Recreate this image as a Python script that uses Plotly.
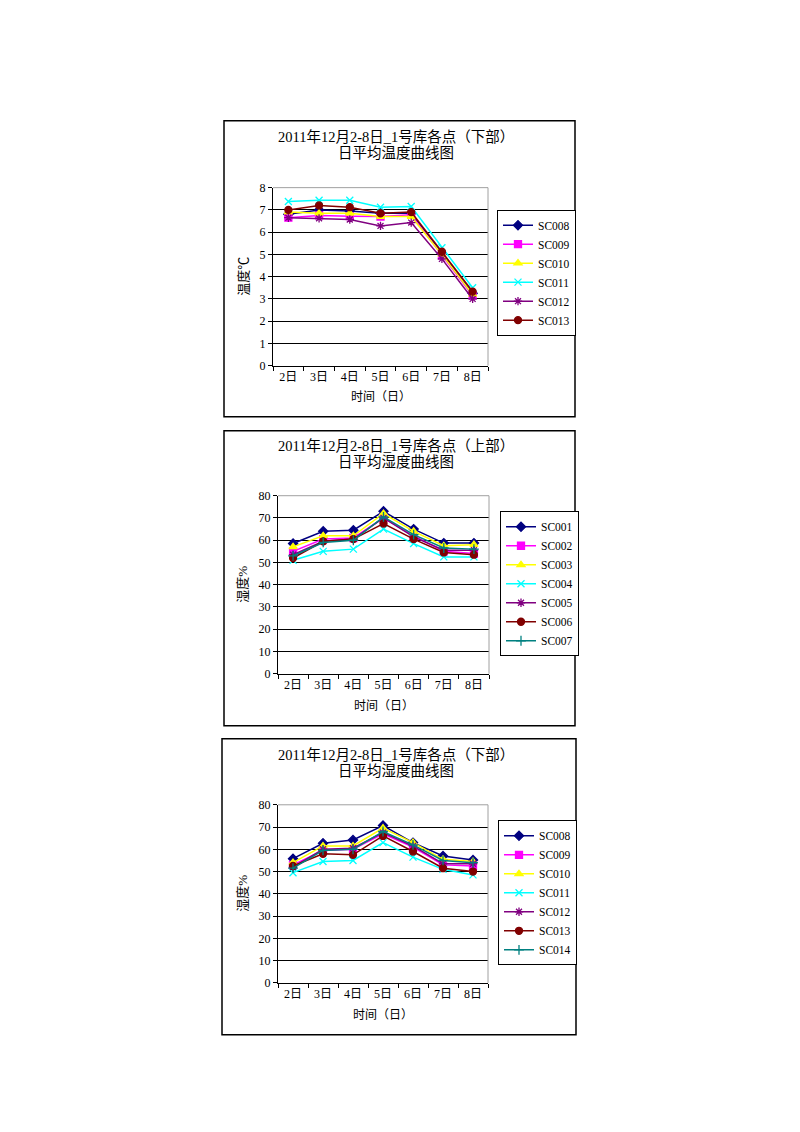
import plotly.graph_objects as go

days = ["2日", "3日", "4日", "5日", "6日", "7日", "8日"]

# Chart 1: temperature, lower part
temp_names = ["SC008", "SC009", "SC010", "SC011", "SC012", "SC013"]
temp_sc008 = [6.8, 7.0, 6.95, 6.85, 6.85, 5.05, 3.25]
temp_sc009 = [6.65, 6.75, 6.72, 6.7, 6.78, 4.95, 3.15]
temp_sc010 = [6.9, 6.85, 6.85, 6.7, 6.7, 5.0, 3.2]
temp_sc011 = [7.38, 7.43, 7.43, 7.12, 7.15, 5.3, 3.5]
temp_sc012 = [6.65, 6.62, 6.57, 6.28, 6.43, 4.8, 3.0]
temp_sc013 = [7.0, 7.2, 7.12, 6.85, 6.9, 5.12, 3.33]

# Chart 2: humidity, upper part
hu_names = ["SC001", "SC002", "SC003", "SC004", "SC005", "SC006", "SC007"]
hu_sc001 = [58.5, 64.0, 64.5, 73.0, 65.0, 58.7, 58.7]
hu_sc002 = [55.0, 60.5, 61.0, 70.0, 62.0, 55.0, 54.0]
hu_sc003 = [57.0, 62.0, 62.0, 72.0, 64.0, 57.5, 58.0]
hu_sc004 = [51.0, 55.0, 56.0, 65.0, 58.5, 52.5, 52.5]
hu_sc005 = [53.5, 59.5, 60.5, 70.0, 61.5, 55.5, 55.5]
hu_sc006 = [52.0, 59.5, 60.5, 67.5, 60.5, 54.5, 53.5]
hu_sc007 = [53.0, 59.0, 60.0, 70.5, 62.5, 56.5, 56.0]

# Chart 3: humidity, lower part
hl_names = ["SC008", "SC009", "SC010", "SC011", "SC012", "SC013", "SC014"]
hl_sc008 = [55.8, 62.7, 64.2, 70.7, 63.0, 57.0, 55.2]
hl_sc009 = [53.0, 59.5, 60.0, 67.0, 61.0, 53.0, 52.5]
hl_sc010 = [54.0, 61.5, 61.5, 69.5, 63.0, 55.5, 54.5]
hl_sc011 = [49.5, 54.5, 55.0, 63.0, 56.5, 51.0, 48.5]
hl_sc012 = [52.0, 60.0, 60.5, 67.5, 61.5, 53.5, 53.5]
hl_sc013 = [52.5, 58.0, 57.5, 66.0, 59.0, 51.5, 50.0]
hl_sc014 = [51.5, 59.5, 60.0, 68.0, 62.0, 55.0, 54.0]

titles = [
    ("2011年12月2-8日_1号库各点（下部）", "日平均温度曲线图"),
    ("2011年12月2-8日_1号库各点（上部）", "日平均湿度曲线图"),
    ("2011年12月2-8日_1号库各点（下部）", "日平均湿度曲线图"),
]
ytitles = ["温度℃", "湿度%", "湿度%"]
xtitle = "时间（日）"

styles = {
    "SC001": ("#000080", "diamond"), "SC002": ("#FF00FF", "square"),
    "SC003": ("#FFFF00", "triangle-up"), "SC004": ("#00FFFF", "x-thin"),
    "SC005": ("#800080", "asterisk"), "SC006": ("#800000", "circle"),
    "SC007": ("#008080", "cross-thin"),
}
lower_styles = {
    "SC008": styles["SC001"], "SC009": styles["SC002"], "SC010": styles["SC003"],
    "SC011": styles["SC004"], "SC012": styles["SC005"], "SC013": styles["SC006"],
    "SC014": styles["SC007"],
}

FONT = "Liberation Serif, Noto Sans CJK SC, serif"
W, H = 800, 1132
def fx(p): return p / W
def fy(p): return 1 - ((p - 6.4) / 0.9874) / H

charts = [
    dict(names=temp_names, data=[temp_sc008, temp_sc009, temp_sc010, temp_sc011, temp_sc012, temp_sc013],
         sty=lower_styles, plot=(273, 187, 488, 365), box=(224, 120, 575, 416),
         legend=(497, 272), rng=[0, 8], dt=1, title_y=(136, 152), xlab_y=396, ytitle_x=244),
    dict(names=hu_names, data=[hu_sc001, hu_sc002, hu_sc003, hu_sc004, hu_sc005, hu_sc006, hu_sc007],
         sty=styles, plot=(278, 495, 489, 673), box=(224, 430, 575, 725),
         legend=(500, 583), rng=[0, 80], dt=10, title_y=(445, 461), xlab_y=705, ytitle_x=243),
    dict(names=hl_names, data=[hl_sc008, hl_sc009, hl_sc010, hl_sc011, hl_sc012, hl_sc013, hl_sc014],
         sty=lower_styles, plot=(278, 804, 488, 982), box=(222, 738, 576, 1034),
         legend=(498, 892), rng=[0, 80], dt=10, title_y=(754, 770), xlab_y=1014, ytitle_x=243),
]

fig = go.Figure()
shapes = []
annotations = []
layout = {}
for i, c in enumerate(charts):
    n = "" if i == 0 else str(i + 1)
    xa, ya = "x" + n, "y" + n
    lg = "legend" + n
    for name, vals in zip(c["names"], c["data"]):
        col, sym = c["sty"][name]
        fig.add_trace(go.Scatter(
            x=days, y=vals, name=name, mode="lines+markers",
            xaxis=xa, yaxis=ya, legend=lg,
            line=dict(color=col, width=1.5),
            marker=dict(symbol=sym, size=7, color=col, line=dict(color=col, width=1.3)),
        ))
    x0, y0, x1, y1 = c["plot"]
    layout["xaxis" + n] = dict(
        domain=[fx(x0), fx(x1)], anchor=ya, type="category", range=[-0.5, 6.5],
        showline=True, linecolor="black", linewidth=1, ticks="outside", ticklen=4,
        tickson="boundaries", tickcolor="black", showgrid=False,
        tickfont=dict(family=FONT, size=12, color="black"), fixedrange=True,
    )
    layout["yaxis" + n] = dict(
        domain=[fy(y1), fy(y0)], anchor=xa, range=c["rng"], dtick=c["dt"],
        showline=True, linecolor="black", linewidth=1, ticks="outside", ticklen=4,
        tickcolor="black", showgrid=True, gridcolor="black", gridwidth=1,
        zeroline=False, tickfont=dict(family=FONT, size=12, color="black"), fixedrange=True,
    )
    lx, ly = c["legend"]
    layout[lg] = dict(
        x=fx(lx), y=fy(ly), xanchor="left", yanchor="middle", xref="paper", yref="paper",
        bordercolor="black", borderwidth=1, bgcolor="white",
        font=dict(family=FONT, size=11.5, color="black"), itemwidth=30,
        tracegroupgap=0,
    )
    bx0, by0, bx1, by1 = c["box"]
    shapes.append(dict(type="rect", xref="paper", yref="paper", x0=fx(bx0), x1=fx(bx1),
                       y0=fy(by1), y1=fy(by0), line=dict(color="black", width=1.5)))
    shapes.append(dict(type="line", xref=xa + " domain", yref=ya + " domain", x0=0, x1=1, y0=1, y1=1,
                       line=dict(color="#a0a0a0", width=1), layer="above"))
    shapes.append(dict(type="line", xref=xa + " domain", yref=ya + " domain", x0=1, x1=1, y0=0, y1=1,
                       line=dict(color="#a0a0a0", width=1), layer="above"))
    t1, t2 = titles[i]
    annotations.append(dict(text=t1, x=fx(396), y=fy(c["title_y"][0]), xref="paper", yref="paper",
                            showarrow=False, xanchor="center", yanchor="middle",
                            font=dict(family=FONT, size=14.5, color="black")))
    annotations.append(dict(text=t2, x=fx(396), y=fy(c["title_y"][1]), xref="paper", yref="paper",
                            showarrow=False, xanchor="center", yanchor="middle",
                            font=dict(family=FONT, size=14.5, color="black")))
    annotations.append(dict(text=xtitle, x=fx((x0 + x1) / 2), y=fy(c["xlab_y"]), xref="paper", yref="paper",
                            showarrow=False, xanchor="center", yanchor="middle",
                            font=dict(family=FONT, size=12, color="black")))
    annotations.append(dict(text=ytitles[i], x=fx(c["ytitle_x"]), y=fy((y0 + y1) / 2), xref="paper", yref="paper",
                            showarrow=False, xanchor="center", yanchor="middle", textangle=-90,
                            font=dict(family=FONT, size=13, color="black")))

fig.update_layout(
    width=W, height=H, margin=dict(l=0, r=0, t=0, b=0),
    paper_bgcolor="white", plot_bgcolor="white", showlegend=True,
    shapes=shapes, annotations=annotations, **layout,
)
fig.write_html("out.html")
